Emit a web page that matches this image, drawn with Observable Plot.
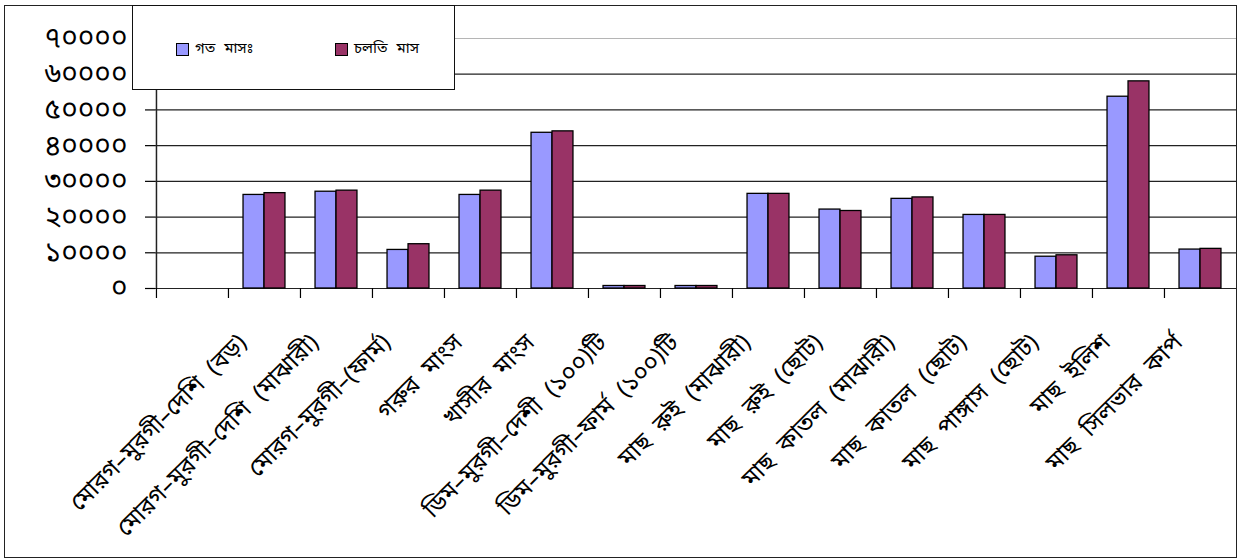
<!DOCTYPE html>
<html>
<head>
<meta charset="utf-8">
<script src="https://cdn.jsdelivr.net/npm/d3@7"></script>
<script src="https://cdn.jsdelivr.net/npm/@observablehq/plot@0.6"></script>
<style>
  html, body { margin: 0; padding: 0; background: #fff; overflow: hidden; }
  #wrap { position: relative; width: 1246px; height: 559px; }
  #frame { position: absolute; left: 4px; top: 5px; width: 1231px; height: 551px; border: 1.5px solid #222; pointer-events: none; }
  #legend { position: absolute; left: 132px; top: 5px; width: 321px; height: 83px; background: #fff; border: 1.5px solid #111; font-family: 'Noto Sans Bengali', 'Noto Sans', sans-serif; font-size: 15px; word-spacing: 5px; }
  .item { position: absolute; top: 33px; display: flex; align-items: center; }
  .sw { width: 11px; height: 11px; border: 1.5px solid #000; margin-right: 6px; }
  .xlab text { word-spacing: 7px; }
</style>
</head>
<body>
<div id="wrap">
  <div id="chart"></div>
  <div id="frame"></div>
  <div id="legend"></div>
</div>
<script>
const categories = [
  "",
  "মোরগ–মুরগী–দেশি (বড়)",
  "মোরগ–মুরগী–দেশি (মাঝারী)",
  "মোরগ–মুরগী–(ফার্ম)",
  "গরুর মাংস",
  "খাসীর মাংস",
  "ডিম–মুরগী–দেশী (১০০)টি",
  "ডিম–মুরগী–ফার্ম (১০০)টি",
  "মাছ রুই (মাঝারী)",
  "মাছ রুই (ছোট)",
  "মাছ কাতল (মাঝারী)",
  "মাছ কাতল (ছোট)",
  "মাছ পাঙ্গাস (ছোট)",
  "মাছ ইলিশ",
  "মাছ সিলভার কার্প"
];
const seriesNames = ["গত মাসঃ", "চলতি মাস"];
const seriesColors = ["#9999FF", "#993366"];
const lastMonth = [null, 26200, 27100, 10800, 26200, 43600, 700, 700, 26500, 22100, 25100, 20600, 8900, 53700, 10900];
const thisMonth = [null, 26700, 27400, 12400, 27400, 44000, 700, 700, 26500, 21700, 25500, 20600, 9300, 58000, 11100];
const yTickValues = [0, 10000, 20000, 30000, 40000, 50000, 60000, 70000];
const yTickLabels = ["০", "১০০০০", "২০০০০", "৩০০০০", "৪০০০০", "৫০০০০", "৬০০০০", "৭০০০০"];

const W = 1246, H = 559;
const mL = 155, mR = 10, mT = 38, mB = 271;
const step = (W - mL - mR) / categories.length;
const barW = 21;

const rowsA = categories.map((c, i) => ({c, v: lastMonth[i]})).filter(d => d.v != null);
const rowsB = categories.map((c, i) => ({c, v: thisMonth[i]})).filter(d => d.v != null);

const font = "'Noto Sans Bengali', 'Noto Sans', sans-serif";

const chart = Plot.plot({
  width: W, height: H,
  marginLeft: mL, marginRight: mR, marginTop: mT, marginBottom: mB,
  style: {fontFamily: font, background: "#fff", color: "#000", overflow: "visible"},
  x: {domain: categories, padding: 0, label: null},
  y: {domain: [0, 70000], label: null},
  marks: [
    Plot.ruleY(yTickValues, {stroke: d => d === 70000 ? "#b5b5b5" : "#222", strokeWidth: 1.2}),
    Plot.axisY({ticks: yTickValues, tickSize: 10, tickPadding: 18, tickFormat: (d) => yTickLabels[yTickValues.indexOf(d)], fontSize: 28, label: null, strokeWidth: 1.2}),
    Plot.ruleX([categories[0]], {dx: -step / 2, stroke: "#222", strokeWidth: 1.5}),
    Plot.barY(rowsA, {x: "c", y: "v", fill: seriesColors[0], stroke: "#000", strokeWidth: 1.3,
      insetLeft: step / 2 - barW, insetRight: step / 2}),
    Plot.barY(rowsB, {x: "c", y: "v", fill: seriesColors[1], stroke: "#000", strokeWidth: 1.3,
      insetLeft: step / 2, insetRight: step / 2 - barW}),
    Plot.axisX({tickSize: 10, tickFormat: () => "", dx: -step / 2, label: null, strokeWidth: 1.2}),
    Plot.axisX({tickSize: 0, tickRotate: -45, tickPadding: 50, fontSize: 24, label: null, dx: -22,
      className: "xlab", tickFormat: d => d})
  ]
});
document.getElementById("chart").appendChild(chart);

const legend = document.getElementById("legend");
const lx = [43, 202];
seriesNames.forEach((n, i) => {
  const it = document.createElement("div");
  it.className = "item";
  it.style.left = lx[i] + "px";
  const sw = document.createElement("div");
  sw.className = "sw";
  sw.style.background = seriesColors[i];
  const t = document.createElement("span");
  t.textContent = n;
  it.appendChild(sw); it.appendChild(t);
  legend.appendChild(it);
});
</script>
</body>
</html>
